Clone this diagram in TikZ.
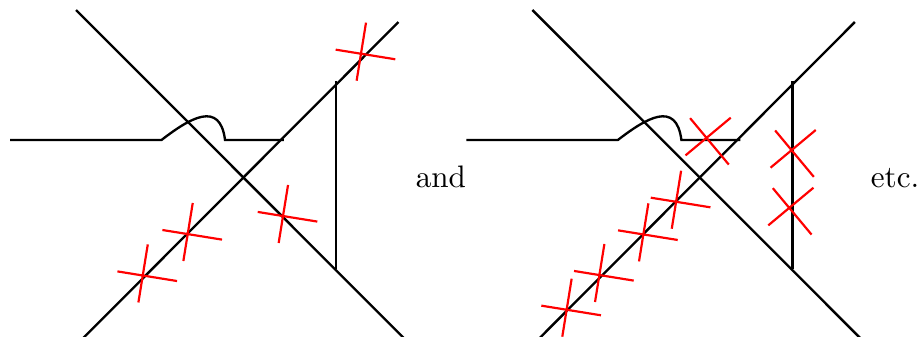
\documentclass[tikz,border=0pt]{standalone}
\usepackage{xcolor}
\usepackage{tikz}
\tikzset{
	leg/.style={line width=0.75pt},
	cutmark/.style={red, line width=0.7pt}
}

\begin{document}
\begin{tikzpicture}
		\useasboundingbox (0,0) rectangle (10.385,3.797);

		%Linkes Diagramm
		\begin{scope}[xshift=0cm, yshift=0cm, rotate=0, scale=1]
			\coordinate (A) at (0.859,3.684);
			\coordinate (B) at (4.59,-0.05);
			\coordinate (C) at (0.914,-0.05);
			\coordinate (D) at (4.503,3.548);

			%Aussenlinien
			\draw [leg] (A) -- (B);
			\draw [leg] (C) -- (D);
			\draw [leg] (3.797,2.882) -- (3.797,0.757);

			%Linie mit Bogen
			\draw [leg] (0.113,2.215) -- (1.825,2.215) .. controls (2.147,2.463) and (2.486,2.667) .. (2.543,2.215) -- (3.209,2.215);

			%Kreuze
			\begin{scope}[xshift=4.079cm, yshift=3.187cm, rotate=0, scale=1]
				\draw [cutmark] (-0.286,0.049) -- (0.388,-0.060) (0.057,0.354) -- (-0.049,-0.302);
			\end{scope}
			\begin{scope}[xshift=1.613cm, yshift=0.681cm, rotate=0, scale=1]
				\draw [cutmark] (-0.286,0.049) -- (0.388,-0.060) (0.057,0.354) -- (-0.049,-0.302);
			\end{scope}
			\begin{scope}[xshift=2.121cm, yshift=1.149cm, rotate=0, scale=1]
				\draw [cutmark] (-0.286,0.049) -- (0.388,-0.060) (0.057,0.354) -- (-0.049,-0.302);
			\end{scope}
			\begin{scope}[xshift=3.198cm, yshift=1.353cm, rotate=0, scale=1]
				\draw [cutmark] (-0.286,0.049) -- (0.388,-0.060) (0.057,0.354) -- (-0.049,-0.302);
			\end{scope}
		\end{scope}

		\node (and) [anchor=base] at (4.983,1.678) {and};

		%Rechtes Diagramm
		\begin{scope}[xshift=5.157cm, yshift=0cm, rotate=0, scale=1]
			\coordinate (A) at (0.859,3.684);
			\coordinate (B) at (4.59,-0.05);
			\coordinate (C) at (0.914,-0.05);
			\coordinate (D) at (4.503,3.548);

			%Aussenlinien
			\draw [leg] (A) -- (B);
			\draw [leg] (C) -- (D);
			\draw [leg] (3.797,2.882) -- (3.797,0.757);

			%Linie mit Bogen
			\draw [leg] (0.113,2.215) -- (1.825,2.215) .. controls (2.147,2.463) and (2.486,2.667) .. (2.543,2.215) -- (3.209,2.215);

			%Kreuze auf der Diagonale
			\begin{scope}[xshift=1.246cm, yshift=0.294cm, rotate=0, scale=1]
				\draw [cutmark] (-0.286,0.049) -- (0.388,-0.060) (0.057,0.354) -- (-0.049,-0.302);
			\end{scope}
			\begin{scope}[xshift=1.616cm, yshift=0.686cm, rotate=0, scale=1]
				\draw [cutmark] (-0.286,0.049) -- (0.388,-0.060) (0.057,0.354) -- (-0.049,-0.302);
			\end{scope}
			\begin{scope}[xshift=2.113cm, yshift=1.145cm, rotate=0, scale=1]
				\draw [cutmark] (-0.286,0.049) -- (0.388,-0.060) (0.057,0.354) -- (-0.049,-0.302);
			\end{scope}
			\begin{scope}[xshift=2.483cm, yshift=1.514cm, rotate=0, scale=1]
				\draw [cutmark] (-0.286,0.049) -- (0.388,-0.060) (0.057,0.354) -- (-0.049,-0.302);
			\end{scope}

			%Gedrehte Kreuze
			\begin{scope}[xshift=2.825cm, yshift=2.237cm, rotate=-41, scale=1]
				\draw [cutmark] (-0.286,0.049) -- (0.388,-0.060) (0.057,0.354) -- (-0.049,-0.302);
			\end{scope}
			\begin{scope}[xshift=3.786cm, yshift=2.098cm, rotate=-41, scale=1]
				\draw [cutmark] (-0.286,0.049) -- (0.388,-0.060) (0.057,0.354) -- (-0.049,-0.302);
			\end{scope}
			\begin{scope}[xshift=3.760cm, yshift=1.446cm, rotate=-41, scale=1]
				\draw [cutmark] (-0.286,0.049) -- (0.388,-0.060) (0.057,0.354) -- (-0.049,-0.302);
			\end{scope}
		\end{scope}

		\node (etc) [anchor=base] at (10.114,1.678) {etc.};
\end{tikzpicture}
\end{document}
